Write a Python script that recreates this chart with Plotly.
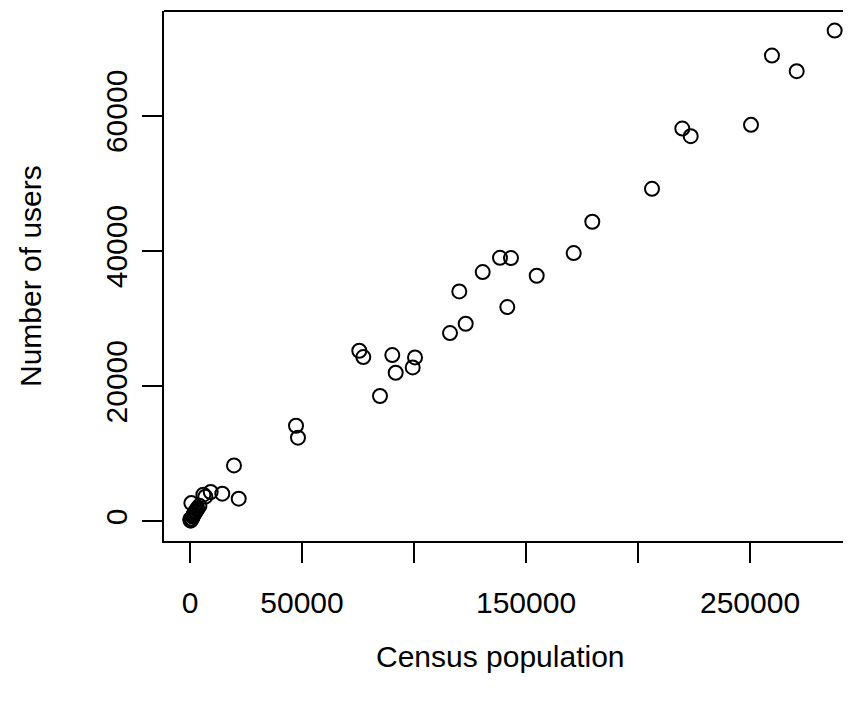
import plotly.graph_objects as go

# Census population (x) vs number of users (y)
census_population = [
    287800, 259800, 270850, 219780, 223530, 250450, 206250,
    179600, 171290, 138390, 143300, 130670, 154780, 120220, 141650, 123080, 116070,
    75580, 77370, 90310, 100450, 99420, 91830, 84820,
    47320, 48210,
    19640, 21740, 14420, 9240, 6830, 5950,
    300, 800, 1200, 1800, 2500, 3300, 4200, 600, 1500, 2200, 3000, 100,
]
number_of_users = [
    72620, 68920, 66610, 58120, 57000, 58670, 49210,
    44330, 39700, 39000, 38960, 36890, 36340, 34020, 31710, 29240, 27860,
    25250, 24310, 24610, 24260, 22780, 21990, 18550,
    14150, 12380,
    8280, 3360, 4100, 4350, 3650, 3950,
    100, 400, 700, 1100, 1500, 1900, 2300, 2700, 900, 1300, 1700, 300,
]

x_tickvals = [0, 50000, 100000, 150000, 200000, 250000]
x_ticktext = ["0", "50000", "", "150000", "", "250000"]
y_tickvals = [0, 20000, 40000, 60000]
y_ticktext = ["0", "20000", "40000", "60000"]

FONT = "Liberation Sans, Arial, Helvetica, sans-serif"
FS = 30

# the page body has an 8px margin, so figure coordinates = window coordinates - 8
OFF = 8
W, H = 851 - OFF, 704 - OFF
L = 164 - OFF
T = 11 - OFF
BOTTOM = 541 - OFF
B = H - BOTTOM

fig = go.Figure()
fig.add_trace(go.Scatter(
    x=census_population, y=number_of_users, mode="markers",
    marker=dict(symbol="circle-open", size=14, color="black",
                line=dict(color="black", width=2)),
    showlegend=False, cliponaxis=False,
))

fig.update_layout(
    width=W, height=H,
    margin=dict(l=L, r=0, t=T, b=B, pad=0),
    paper_bgcolor="white", plot_bgcolor="white",
    font=dict(family=FONT, size=FS, color="black"),
    xaxis=dict(
        range=[-11607, 295089], showgrid=False, zeroline=False,
        showline=True, linecolor="black", linewidth=2, mirror=False,
        ticks="outside", ticklen=20, tickwidth=2, tickcolor="black",
        tickvals=x_tickvals, ticktext=x_ticktext,
        tickfont=dict(family=FONT, size=FS), ticklabelstandoff=14,
    ),
    yaxis=dict(
        range=[-2905, 75520], showgrid=False, zeroline=False,
        showline=True, linecolor="black", linewidth=2, mirror=False,
        ticks="outside", ticklen=20, tickwidth=2, tickcolor="black",
        tickvals=y_tickvals, ticktext=y_ticktext, tickangle=-90,
        tickfont=dict(family=FONT, size=FS), ticklabelstandoff=3,
    ),
    shapes=[dict(type="line", xref="paper", yref="paper", x0=0, x1=1, y0=1, y1=1,
                 line=dict(color="black", width=2))],
    annotations=[
        dict(text="Census population", xref="paper", yref="paper",
             x=(500 - OFF - L) / (W - L), y=-(656 - OFF - BOTTOM) / (H - T - B),
             xanchor="center", yanchor="middle", showarrow=False,
             font=dict(family=FONT, size=FS)),
        dict(text="Number of users", xref="paper", yref="paper",
             x=-(L - (30 - OFF)) / (W - L), y=(BOTTOM - (276 - OFF)) / (H - T - B),
             xanchor="center", yanchor="middle", showarrow=False, textangle=-90,
             font=dict(family=FONT, size=FS)),
    ],
)

fig.write_html("out.html")
